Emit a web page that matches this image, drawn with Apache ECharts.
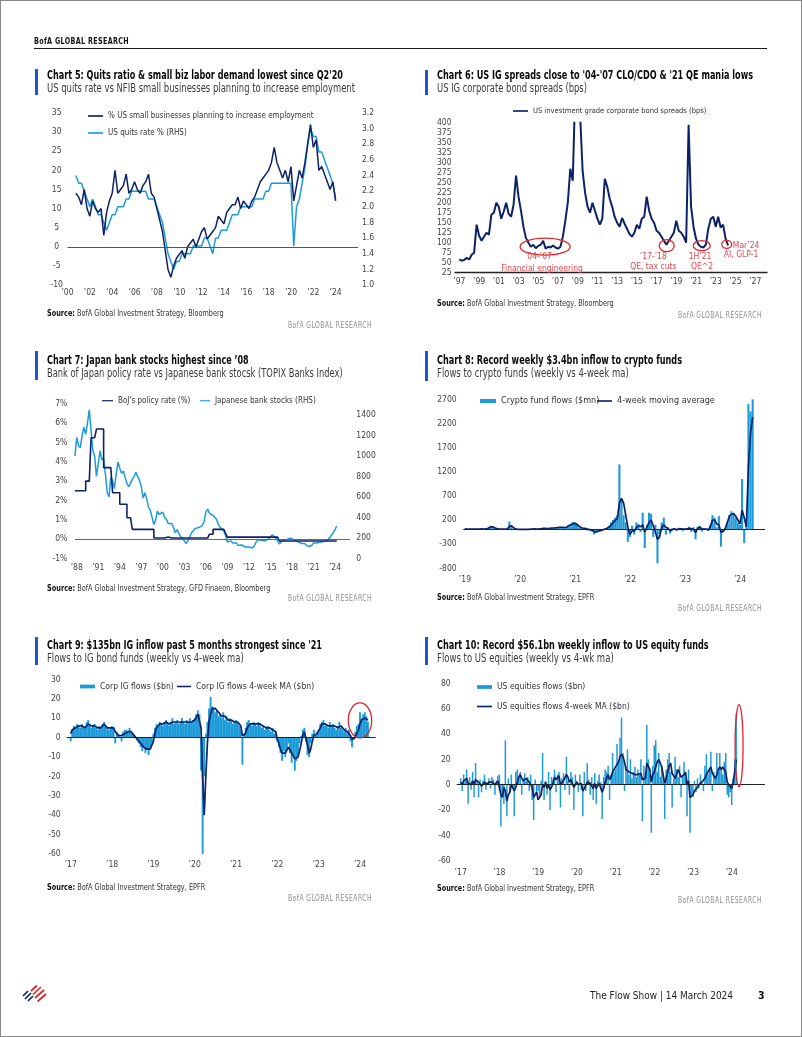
<!DOCTYPE html>
<html>
<head>
<meta charset="utf-8">
<title>The Flow Show</title>
<script src="https://cdn.jsdelivr.net/npm/echarts@6.0.0/dist/echarts.min.js"></script>
<style>
 html,body{margin:0;padding:0;background:#fff;}
 #page{position:relative;width:802px;height:1037px;overflow:hidden;background:#fff;}
 #chart{position:absolute;left:0;top:0;width:802px;height:1037px;}
 #frame{position:absolute;left:0;top:0;width:802px;height:1037px;box-sizing:border-box;border:1px solid #8a8a8a;pointer-events:none;}
 .t{position:absolute;white-space:nowrap;line-height:1;transform-origin:0 50%;font-family:'Liberation Sans Narrow','DejaVu Sans Condensed','Roboto Condensed','Liberation Sans',Arial,sans-serif;}
 .acc{position:absolute;width:3px;background:#1a56d6;}
 .rule{position:absolute;background:#1b1b1b;}
</style>
</head>
<body>
<div id="page">
 <div id="chart"></div>
 <div class="rule" style="left:34px;top:47.5px;width:733px;height:1.5px"></div>
 <div class="acc" style="left:35px;top:69px;height:26px"></div>
 <div class="acc" style="left:425px;top:70px;height:25px"></div>
 <div class="acc" style="left:35px;top:351px;height:29px"></div>
 <div class="acc" style="left:425px;top:351px;height:30px"></div>
 <div class="acc" style="left:35px;top:637px;height:28px"></div>
 <div class="acc" style="left:425px;top:637px;height:28px"></div>
 <svg style="position:absolute;left:21px;top:984px" width="26" height="20" viewBox="0 0 26 20">
  <g fill="none" stroke-linecap="butt">
   <path d="M2 12 L7 7 M4 15 L10 9 M7 17 L12 12" stroke="#0c2267" stroke-width="1.7"/>
   <path d="M10 7 L16 1.5 M12 10.5 L20 3 M14 14 L23 6 M16.5 17.5 L25 10" stroke="#e2232b" stroke-width="1.7"/>
  </g>
 </svg>
 <div id="frame"></div>
</div>
<script>
// ---------------- DATA ----------------
// Chart 5: quarterly, from 2000.75
const c5Start = 2000.75, c5Step = 0.25;
const c5Nfib = [14,
 13,11,15,10, 8,12,10,9, 10,3,9,12, 14,20,14,15, 16,19,14,15, 17,15,14,16, 17,19,14,13, 10,7,4,-1,
 -6,-8,-5,-3, -2,-1,-3,0, 1,2,0,2, 4,5,2,3, 4,5,8,7, 6,9,10,11, 11,13,10,12, 11,10,12,13,
 15,17,18,19, 20,22,26,22, 20,18,20,17, 21,12,16,20, 18,22,27,32, 26,28,20,21, 19,17,15,17, 12];
const c5Quits = [2.4,
 2.3,2.3,2.2,2.1, 2.0,2.1,2.0,1.9, 1.9,1.8,1.7,1.8, 1.9,1.9,2.0,2.0, 2.0,2.1,2.1,2.2, 2.2,2.2,2.2,2.2, 2.2,2.1,2.1,2.1, 2.0,1.9,1.8,1.6,
 1.4,1.3,1.2,1.3, 1.3,1.4,1.4,1.4, 1.4,1.5,1.5,1.5, 1.5,1.6,1.6,1.5, 1.4,1.6,1.6,1.7, 1.7,1.7,1.8,1.9, 1.9,1.9,2.0,2.0, 2.0,2.0,2.0,2.1,
 2.1,2.1,2.1,2.2, 2.2,2.3,2.3,2.3, 2.3,2.3,2.3,2.3, 2.3,1.5,2.0,2.1, 2.3,2.5,2.8,3.0, 2.9,2.9,2.7,2.7, 2.6,2.5,2.4,2.3, 2.1];
const c5XTicks = [2000,2002,2004,2006,2008,2010,2012,2014,2016,2018,2020,2022,2024];
const c5LTicks = [-10,-5,0,5,10,15,20,25,30,35];
const c5RTicks = [1.0,1.2,1.4,1.6,1.8,2.0,2.2,2.4,2.6,2.8,3.0,3.2];

// Chart 6: quarterly, from 1997.0
const c6Start = 1997, c6Step = 0.25;
const c6Spread = [58,55,57,62, 58,70,75,145, 118,105,115,125, 120,170,175,200, 190,160,178,200, 172,165,195,268, 215,180,140,112,
 100,90,95,86, 92,95,105,85, 90,88,93,88, 85,90,115,155, 200,285,255,480, 620,420,280,225, 190,175,200,180, 160,145,160,260,
 240,210,190,165, 150,140,162,148, 135,122,115,125, 145,135,160,165, 215,180,160,150, 130,125,115,105, 95,105,115,125,
 155,130,125,115, 100,395,190,140, 110,95,90,88, 95,135,160,165, 140,165,138,145, 110,93];
const c6XTicks = [1997,1999,2001,2003,2005,2007,2009,2011,2013,2015,2017,2019,2021,2023,2025,2027];
const c6YTicks = [25,50,75,100,125,150,175,200,225,250,275,300,325,350,375,400];

// Chart 7: quarterly, from 1987.75
const c7Start = 1987.75, c7Step = 0.25;
const c7Boj = [2.5,
 2.5,2.5,2.5,2.5, 2.5,3.0,3.0,3.0, 5.25,5.25,5.25,5.7, 5.7,5.7,5.7,3.7, 3.7,3.7,3.7,3.7, 2.4,2.4,2.4,2.4, 1.8,1.8,1.8,1.8,
 1.1,1.1,1.1,0.5, 0.5,0.5,0.5,0.5, 0.5,0.5,0.5,0.5, 0.5,0.5,0.5,0.05, 0.05,0.05,0.05,0.05, 0.05,0.1,0.1,0.1, 0.05,0.05,0.05,0.05,
 0.05,0.05,0.05,0.05, 0.05,0.05,0.05,0.05, 0.05,0.05,0.05,0.05, 0.05,0.05,0.05,0.05, 0.05,0.05,0.25,0.25, 0.5,0.5,0.5,0.5, 0.5,0.5,0.5,0.3,
 0.1,0.1,0.1,0.1, 0.1,0.1,0.1,0.1, 0.1,0.1,0.1,0.1, 0.1,0.1,0.1,0.1, 0.1,0.1,0.1,0.1, 0.1,0.1,0.1,0.1, 0.1,0.1,0.1,0.1,
 0.1,-0.1,-0.1,-0.1, -0.1,-0.1,-0.1,-0.1, -0.1,-0.1,-0.1,-0.1, -0.1,-0.1,-0.1,-0.1, -0.1,-0.1,-0.1,-0.1, -0.1,-0.1,-0.1,-0.1, -0.1,-0.1,-0.1,-0.1, -0.1,-0.1,-0.1,-0.1,
 -0.1,-0.1];
const c7Banks = [1000,
 1180,1100,1080,1200, 1280,1210,1320,1450, 1250,1050,1000,800, 920,1050,960,980, 820,640,600,790, 760,680,820,940, 880,830,850,790,
 730,700,690,770, 800,840,800,760, 700,590,640,580, 500,470,480,330, 370,460,430,420, 450,400,380,340, 330,340,300,250,
 280,240,210,190, 170,145,170,210, 250,270,290,280, 300,290,320,360, 450,480,440,450, 420,410,380,330, 300,285,270,220,
 160,160,170,150, 145,150,125,130, 130,120,110,100, 110,100,100,120, 160,180,170,175, 180,170,180,190, 205,230,220,200,
 170,140,150,180, 190,180,185,200, 190,180,175,165, 150,145,150,145, 140,115,110,125, 150,145,150,155, 160,155,165,175, 180,190,225,250,
 280,315];
const c7XTicks = [1988,1991,1994,1997,2000,2003,2006,2009,2012,2015,2018,2021,2024];
const c7LTicks = [-1,0,1,2,3,4,5,6,7];
const c7RTicks = [0,200,400,600,800,1000,1200,1400];

// Chart 8: bi-weekly, from 2019.0 ($mn)
const c8Start = 2019, c8Step = 1 / 26;
const c8Flows = [
 20,10,15,5,10,15,10,20,15,10,20,40,80,60,30,20,10,15,5,10,20,170,60,20,10,5,
 10,5,0,10,5,10,15,20,10,15,20,30,25,20,30,40,30,50,40,60,50,40,60,80,120,160,
 150,100,40,30,20,30,-20,10,-40,-100,-60,10,-30,0,20,40,80,150,200,250,300,1350,600,300,150,-250,
 -150,80,-100,150,120,-50,350,-380,100,350,330,-150,100,-700,-100,150,250,-100,50,-80,30,20,-20,40,30,-30,
 20,30,60,-50,50,-200,60,80,-40,30,20,-30,100,300,250,50,280,-350,-50,40,150,300,380,350,250,150,
 100,1050,-280,100,2600,2450,3400];
const c8Ma = [
 15,12,10,10,12,14,12,14,15,14,15,30,55,60,40,25,12,10,10,12,15,70,80,40,15,8,
 8,6,5,7,8,10,12,15,14,15,18,25,25,22,25,35,35,40,45,50,50,45,50,80,100,120,
 130,110,70,40,30,25,10,0,-10,-40,-50,-30,-20,-5,10,25,50,90,140,190,230,550,650,550,300,50,
 -100,-20,-30,40,80,60,100,-50,50,150,200,80,-50,-200,-150,50,100,50,20,-20,0,20,0,10,20,10,
 10,20,30,20,10,-60,30,50,20,10,10,0,60,200,200,120,100,-50,-40,20,150,280,320,330,280,200,
 120,400,250,60,1300,2000,2330];
const c8XTicks = [2019,2020,2021,2022,2023,2024];
const c8YTicks = [-800,-300,200,700,1200,1700,2200,2700];

// Chart 9: bi-weekly, from 2017.0 ($bn)
const c9Start = 2017, c9Step = 1 / 26;
const c9Flows = [
 -2,4,6,5,7,6,5,7,6,5,8,9,6,5,6,7,5,4,6,5,7,8,6,5,4,5,
 6,5,-3,3,2,0,-2,3,4,4,3,5,3,2,1,0,-2,-3,-5,-7,-5,-8,-6,-9,-5,-3,
 2,5,7,6,8,7,6,8,9,7,6,8,10,7,8,9,7,8,10,8,7,9,8,10,8,9,
 10,12,14,12,-17,-61,-20,2,8,15,21,16,15,13,14,11,12,10,13,9,11,8,10,9,7,8,
 9,8,6,4,-14,2,5,8,9,7,6,8,7,6,8,7,5,6,4,5,6,4,3,5,2,3,
 -2,-5,-8,-12,-7,-10,-6,-3,-8,-13,-9,-17,-12,-10,-3,1,4,5,-2,-9,-10,-3,2,4,1,3,
 4,7,8,9,6,7,5,8,6,7,5,4,6,8,5,4,3,5,2,4,-2,-5,-1,3,6,7,
 13,10,12,13,11,8];
const c9Ma = [
 2,4,5,5,6,6,6,6,6,5,6,7,6,6,6,6,5,5,5,5,6,7,6,5,5,5,
 6,5,3,2,1,1,1,2,2,3,3,3,3,2,1,0,-1,-2,-3,-4,-5,-6,-6,-6,-6,-5,
 -2,2,5,6,7,7,7,7,8,8,7,7,8,8,8,8,8,8,8,8,8,8,8,8,8,9,
 9,10,12,13,5,-20,-40,-20,-3,8,12,15,15,15,14,13,12,11,11,11,10,9,9,9,8,8,
 8,8,7,6,1,0,2,5,6,7,7,7,7,7,7,7,6,6,5,5,5,5,4,4,3,3,
 -1,-3,-6,-8,-8,-8,-7,-5,-6,-8,-9,-11,-11,-10,-7,-3,1,3,2,-4,-8,-6,-2,1,2,2,
 2,5,7,7,7,7,6,6,6,6,6,5,5,6,6,5,4,4,3,3,1,-1,-2,0,2,4,
 7,9,10,10,10,9];
const c9XTicks = [2017,2018,2019,2020,2021,2022,2023,2024];
const c9YTicks = [-60,-50,-40,-30,-20,-10,0,10,20,30];

// Chart 10: bi-weekly, from 2017.0 ($bn)
const c10Start = 2017, c10Step = 1 / 26;
const c10Flows = [
 5,-5,8,3,12,-15,6,-4,10,-10,17,3,-10,4,-6,3,8,-4,2,5,-3,6,4,-8,3,7,
 8,-33,-10,-15,35,-25,5,-5,8,-3,-25,10,12,6,10,-8,5,9,3,6,-5,8,-12,-28,4,-8,
 -5,-10,3,25,-12,3,-8,10,-20,6,4,12,-6,8,10,-18,5,9,-4,22,3,-8,10,6,-20,8,
 3,-6,8,-4,-25,10,-5,17,4,-8,6,-12,9,-15,3,8,2,-27,6,12,10,15,-12,8,25,10,
 12,32,18,37,53,25,-5,15,28,8,20,5,10,14,6,12,8,20,-29,15,10,47,20,8,-38,15,
 31,35,10,25,6,15,8,-27,12,20,25,10,-18,5,22,12,6,15,-10,8,18,5,-25,12,-38,-8,
 -10,3,-6,5,-3,8,2,-5,15,24,8,12,26,-5,10,6,25,10,25,12,8,18,25,-8,-10,-6,
 -16,5,20,56];
const c10Ma = [
 2,0,3,3,5,1,2,0,3,0,4,5,2,3,-1,0,2,1,0,2,1,2,3,0,0,3,
 2,-8,-10,-2,-5,-13,-8,-6,0,1,-5,-2,2,6,8,5,3,4,5,5,2,3,-2,-10,-9,-6,
 -12,-13,-8,0,-2,2,-3,0,-4,-2,1,6,4,5,7,0,1,3,2,8,6,2,4,3,-2,0,
 2,0,1,1,-5,-3,-4,2,3,1,0,-3,1,-3,-1,1,0,-6,-3,2,5,8,4,6,10,12,
 14,15,18,22,24,22,18,12,12,10,10,9,8,8,7,8,8,9,4,3,5,17,16,12,2,8,
 10,14,18,20,17,14,13,1,5,4,15,17,9,7,5,8,12,12,6,6,8,10,0,3,-10,-11,
 -8,-5,-4,-2,0,1,2,1,5,8,10,12,14,9,7,5,8,12,14,12,14,12,10,2,0,-1,
 -3,2,10,20];
const c10XTicks = [2017,2018,2019,2020,2021,2022,2023,2024];
const c10YTicks = [-60,-40,-20,0,20,40,60,80];

// ---------------- TEXT ----------------
const page = document.getElementById('page');
const TXT = [];
function addText(html, x, cy, w, css, anchorRight) {
  const el = document.createElement('div');
  el.className = 't';
  el.innerHTML = html;
  el.style.cssText += css;
  el.style.top = cy + 'px';
  el.style.left = x + 'px';
  page.appendChild(el);
  TXT.push({ el: el, x: x, w: w, r: anchorRight });
}
function fitTexts() {
  TXT.forEach(function (o) {
    o.el.style.transform = 'translateY(-50%)';
    const nat = o.el.getBoundingClientRect().width;
    const k = o.w ? o.w / nat : 1;
    o.el.style.left = (o.r ? o.x - o.w : o.x) + 'px';
    o.el.style.transform = 'translateY(-50%) scaleX(' + k.toFixed(4) + ')';
  });
}
const S_TITLE = 'font-size:12.5px;font-weight:bold;color:#0a0a0a;';
const S_SUB = 'font-size:12px;color:#3a3a3a;';
const S_SRC = 'font-size:8.5px;color:#333;';
const S_STAMP = 'font-size:8.5px;color:#8c8c8c;letter-spacing:0.6px;';

addText('BofA GLOBAL RESEARCH', 34, 41, 95, 'font-size:8.5px;font-weight:bold;color:#111;letter-spacing:0.4px;');

const titles = [
  ["Chart 5: Quits ratio &amp; small biz labor demand lowest since Q2'20", 47, 74.5, 296],
  ["Chart 6: US IG spreads close to '04-'07 CLO/CDO &amp; '21 QE mania lows", 437, 74.5, 316],
  ["Chart 7: Japan bank stocks highest since \u201908", 46.7, 360, 201.7],
  ["Chart 8: Record weekly $3.4bn inflow to crypto funds", 436.7, 360, 245],
  ["Chart 9: $135bn IG inflow past 5 months strongest since '21", 46.7, 645, 275],
  ["Chart 10: Record $56.1bn weekly inflow to US equity funds", 436.7, 645, 271.7]
];
titles.forEach(function (t) { addText(t[0], t[1], t[2], t[3], S_TITLE); });
const subs = [
  ['US quits rate vs NFIB small businesses planning to increase employment', 47, 88.3, 308],
  ['US IG corporate bond spreads (bps)', 437, 88.3, 150],
  ['Bank of Japan policy rate vs Japanese bank stocsk (TOPIX Banks Index)', 46.7, 373.3, 295.7],
  ['Flows to crypto funds (weekly vs 4-week ma)', 436.7, 373.3, 191.7],
  ['Flows to IG bond funds (weekly vs 4-week ma)', 46.7, 658.3, 196.7],
  ['Flows to US equities (weekly vs 4-wk ma)', 436.7, 658.3, 176.7]
];
subs.forEach(function (t) { addText(t[0], t[1], t[2], t[3], S_SUB); });
const sources = [
  ['BofA Global Investment Strategy, Bloomberg', 47, 313.3, 176.7],
  ['BofA Global Investment Strategy, Bloomberg', 437, 303.3, 176.7],
  ['BofA Global Investment Strategy, GFD Finaeon, Bloomberg', 46.7, 587.7, 223.3],
  ['BofA Global Investment Strategy, EPFR', 436.7, 596.7, 157.3],
  ['BofA Global Investment Strategy, EPFR', 46.7, 886.7, 158.3],
  ['BofA Global Investment Strategy, EPFR', 436.7, 888.3, 157.3]
];
sources.forEach(function (t) { addText('<b style="color:#111">Source:</b> ' + t[0], t[1], t[2], t[3], S_SRC); });
const stamps = [[372, 325], [762, 315], [372, 598.3], [762, 608.3], [372, 898.3], [762, 900]];
stamps.forEach(function (s) { addText('BofA GLOBAL RESEARCH', s[0], s[1], 84, S_STAMP, true); });
addText('The Flow Show | 14 March 2024', 590, 995, 143, 'font-size:10.5px;color:#222;');
addText('3', 758, 995, 0, 'font-size:10.5px;font-weight:bold;color:#111;');
fitTexts();
if (document.fonts && document.fonts.ready) document.fonts.ready.then(fitTexts);

// ---------------- CHARTS ----------------
const FONT = "'Liberation Sans Narrow','DejaVu Sans Condensed','Roboto Condensed','Liberation Sans',Arial,sans-serif";
const NAVY = '#0c2267', LBLUE = '#1d9bd9', RED = '#e2232b', AXC = '#444';
const pts = function (start, step, arr) { return arr.map(function (v, i) { return [start + i * step, v]; }); };
const yrFmt = function (v) { return '\u2019' + String(Math.round(v)).slice(2); };
const plainFmt = function (v) { return String(v); };

function xAx(gi, min, max, ticks, margin, fs, showLine) {
  return { type: 'value', gridIndex: gi, min: min, max: max, position: 'bottom',
    axisLine: { show: !!showLine, onZero: false, lineStyle: { color: '#222', width: 1.3 } },
    axisTick: { show: false }, splitLine: { show: false },
    axisLabel: { customValues: ticks, formatter: yrFmt, margin: margin, color: AXC, fontSize: fs, fontFamily: FONT } };
}
function yAx(gi, min, max, ticks, pos, margin, fs, fmt, align) {
  const a = { type: 'value', gridIndex: gi, min: min, max: max, position: pos,
    axisLine: { show: false }, axisTick: { show: false }, splitLine: { show: false },
    axisLabel: { customValues: ticks, margin: margin, color: AXC, fontSize: fs, fontFamily: FONT, formatter: fmt || plainFmt } };
  if (align) a.axisLabel.align = align;
  return a;
}
const ICON_LINE = 'path://M0,0H20V2.2H0Z';
const ICON_BAR = 'path://M0,0H20V5H0Z';
function leg(names, icons, left, cy, iw, fs, orient, gap) {
  return { left: left, top: cy - 5, orient: orient || 'horizontal', padding: 0, itemGap: gap || 10,
    itemWidth: iw, itemHeight: 10, symbolKeepAspect: true, selectedMode: false,
    data: names.map(function (n, i) { return { name: n, icon: icons[i] }; }),
    textStyle: { color: '#333', fontSize: fs, fontFamily: FONT } };
}
const zero = function (c) { return { silent: true, symbol: ['none', 'none'], label: { show: false },
  lineStyle: { color: c, width: 1, type: 'solid' }, data: [{ yAxis: 0 }] }; };
function lineS(name, xi, yi, data, color, w, extra) {
  return Object.assign({ type: 'line', name: name, xAxisIndex: xi, yAxisIndex: yi, data: data, symbol: 'none',
    lineStyle: { color: color, width: w }, itemStyle: { color: color }, z: 3 }, extra || {});
}
function barS(name, xi, yi, data, bw, extra) {
  return Object.assign({ type: 'bar', name: name, xAxisIndex: xi, yAxisIndex: yi, data: data, barWidth: bw,
    itemStyle: { color: LBLUE }, z: 2 }, extra || {});
}
const N5a = '% US small businesses planning to increase employment', N5b = 'US quits rate % (RHS)';
const N6 = 'US investment grade corporate bond spreads (bps)';
const N7a = "BoJ's policy rate (%)", N7b = 'Japanese bank stocks (RHS)';
const N8a = 'Crypto fund flows ($mn)', N8b = '4-week moving average';
const N9a = 'Corp IG flows ($bn)', N9b = 'Corp IG flows 4-week MA ($bn)';
const N10a = 'US equities flows ($bn)', N10b = 'US equities flows 4-week MA ($bn)';

const G = function (l, t, w, h) { return { left: l, top: t, width: w, height: h, containLabel: false, outerBoundsMode: 'none' }; };
const option = {
  animation: false,
  textStyle: { fontFamily: FONT },
  grid: [G(67.5, 113, 290.5, 172), G(455, 122.7, 312, 150), G(75, 404, 275, 154.3),
         G(463.3, 399.3, 301.7, 169), G(66.7, 679.3, 309, 174.7), G(456.7, 683.3, 308.3, 177.4)],
  xAxis: [xAx(0, 2000, 2026, c5XTicks, 3.5, 8.5),
          xAx(1, 1996.56, 2028.2, c6XTicks, 4.5, 8.5, true),
          xAx(2, 1987.76, 2026.09, c7XTicks, 5, 8.5),
          xAx(3, 2018.97, 2024.455, c8XTicks, 6.5, 8.5),
          xAx(4, 2016.903, 2024.38, c9XTicks, 6.5, 8.5),
          xAx(5, 2016.897, 2024.86, c10XTicks, 7.5, 8.5)],
  yAxis: [yAx(0, -10, 35, c5LTicks, 'left', 10.8, 8.5, null, 'center'),
          yAx(0, 1.0, 3.2, c5RTicks, 'right', 4, 8.5, function (v) { return v.toFixed(1); }),
          yAx(1, 25, 400, c6YTicks, 'left', 3.5, 8.5),
          yAx(2, -1, 7, c7LTicks, 'left', 7.7, 8.5, function (v) { return v + '%'; }),
          yAx(2, 0, 1507, c7RTicks, 'right', 6.3, 8.5),
          yAx(3, -800, 2700, c8YTicks, 'left', 6.6, 8.5),
          yAx(4, -60, 30, c9YTicks, 'left', 6, 8.5),
          yAx(5, -60, 80, c10YTicks, 'left', 6, 8.5)],
  legend: [
    leg([N5a, N5b], [ICON_LINE, ICON_LINE], 88, 117, 15, 8, 'vertical', 9),
    leg([N6], [ICON_LINE], 513, 112, 15, 7.5),
    leg([N7a], [ICON_LINE], 102, 401.7, 11, 8),
    leg([N7b], [ICON_LINE], 200, 401.7, 10, 8),
    leg([N8a], [ICON_BAR], 480, 401.5, 16, 9),
    leg([N8b], [ICON_LINE], 597, 401.5, 15, 9),
    leg([N9a], [ICON_BAR], 80, 687, 15, 8.5),
    leg([N9b], [ICON_LINE], 177, 687, 14, 8.5),
    leg([N10a], [ICON_BAR], 477, 687.5, 15, 8.5),
    leg([N10b], [ICON_LINE], 477, 707, 15, 8.5)
  ],
  series: [
    lineS(N5b, 0, 1, pts(c5Start, c5Step, c5Quits), LBLUE, 1.5),
    lineS(N5a, 0, 0, pts(c5Start, c5Step, c5Nfib), NAVY, 1.5, { markLine: zero('#555') }),
    lineS(N6, 1, 2, pts(c6Start, c6Step, c6Spread), NAVY, 2),
    lineS(N7b, 2, 4, pts(c7Start, c7Step, c7Banks), LBLUE, 1.5),
    lineS(N7a, 2, 3, pts(c7Start, c7Step, c7Boj), NAVY, 1.6, { step: 'end', markLine: zero('#666') }),
    barS(N8a, 3, 5, pts(c8Start, c8Step, c8Flows), 2.1, { markLine: zero('#222') }),
    lineS(N8b, 3, 5, pts(c8Start, c8Step, c8Ma), NAVY, 1.7),
    barS(N9a, 4, 6, pts(c9Start, c9Step, c9Flows), 1.9, { markLine: zero('#222') }),
    lineS(N9b, 4, 6, pts(c9Start, c9Step, c9Ma), NAVY, 1.7),
    barS(N10a, 5, 7, pts(c10Start, c10Step, c10Flows), 1.5, { markLine: zero('#222') }),
    lineS(N10b, 5, 7, pts(c10Start, c10Step, c10Ma), NAVY, 1.7)
  ]
};
const chart = echarts.init(document.getElementById('chart'), null, { renderer: 'canvas' });
chart.setOption(option);

// annotations anchored to data coordinates
const ellipses = [
  { xi: 1, yi: 2, at: [2005.7, 90], rx: 25, ry: 8.5 },
  { xi: 1, yi: 2, at: [2018.03, 92.5], rx: 7.5, ry: 6 },
  { xi: 1, yi: 2, at: [2021.58, 92.5], rx: 8.5, ry: 5 },
  { xi: 1, yi: 2, at: [2024.12, 96], rx: 5, ry: 4 },
  { xi: 4, yi: 6, at: [2024.0, 8.8], rx: 11.7, ry: 17.5 },
  { xi: 5, yi: 7, at: [2024.19, 30.7], rx: 4, ry: 41 }
];
const notes = [
  { at: [2005.7, 90], dx: -6.7, dy: 10, text: '\u201904-\u201907', align: 'center' },
  { at: [2005.7, 90], dx: -3, dy: 21.6, text: 'Financial engineering', align: 'center' },
  { at: [2018.03, 92.5], dx: -13.4, dy: 11, text: '\u201917-\u201918', align: 'center' },
  { at: [2018.03, 92.5], dx: -13.4, dy: 21, text: 'QE, tax cuts', align: 'center' },
  { at: [2021.58, 92.5], dx: -1.7, dy: 11, text: '1H\u201921', align: 'center' },
  { at: [2021.58, 92.5], dx: 0.3, dy: 21, text: 'QE^2', align: 'center' },
  { at: [2024.12, 96], dx: 32.6, dy: 1.4, text: 'Mar\u201924', align: 'right' },
  { at: [2024.12, 96], dx: 31.6, dy: 10.7, text: 'AI, GLP-1', align: 'right' }
];
function addGraphics() {
  const g = [];
  const P = function (xi, yi, pt) { return chart.convertToPixel({ xAxisIndex: xi, yAxisIndex: yi }, pt); };
  ellipses.forEach(function (e) {
    const c = P(e.xi, e.yi, e.at);
    g.push({ type: 'ellipse', silent: true, z: 10, shape: { cx: c[0], cy: c[1], rx: e.rx, ry: e.ry },
      style: { fill: 'none', stroke: RED, lineWidth: 1.3 } });
  });
  notes.forEach(function (n) {
    const c = P(1, 2, n.at);
    g.push({ type: 'text', silent: true, z: 10, x: c[0] + n.dx, y: c[1] + n.dy,
      style: { text: n.text, fill: '#e5484d', font: '8.5px ' + FONT, align: n.align, verticalAlign: 'middle',
        textAlign: n.align, textVerticalAlign: 'middle' } });
  });
  chart.setOption({ graphic: g });
}
addGraphics();
</script>
</body>
</html>
